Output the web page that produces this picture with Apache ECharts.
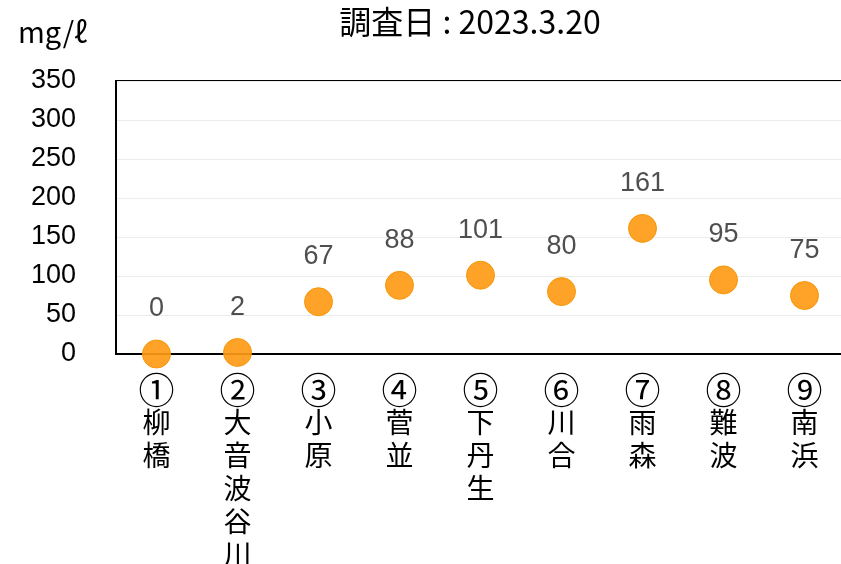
<!DOCTYPE html>
<html>
<head>
<meta charset="utf-8">
<script src="https://cdn.jsdelivr.net/npm/echarts@6/dist/echarts.min.js"></script>
<style>
  html, body { margin: 0; padding: 0; background: #fff; }
  #chart { width: 841px; height: 564px; }
</style>
</head>
<body>
<div id="chart"></div>
<script>
// 調査地点と値 (mg/ℓ)
const sites = ['①柳橋', '②大音波谷川', '③小原', '④菅並', '⑤下丹生', '⑥川合', '⑦雨森', '⑧難波', '⑨南浜'];
const values = [0, 2, 67, 88, 101, 80, 161, 95, 75];
const yTicks = [0, 50, 100, 150, 200, 250, 300, 350];

const font = '"Noto Sans CJK JP", "Noto Sans", sans-serif';
const numFont = '"Liberation Sans", Arial, sans-serif';

const chart = echarts.init(document.getElementById('chart'));
chart.setOption({
  animation: false,
  title: [
    {
      text: '調査日 : 2023.3.20',
      left: 465,
      top: 1,
      textAlign: 'center',
      textStyle: { fontFamily: font, fontSize: 32, fontWeight: 'normal', color: '#000' }
    },
    {
      text: 'mg/ℓ',
      left: 13,
      top: 12,
      textStyle: { fontFamily: font, fontSize: 29, fontWeight: 'normal', color: '#000' }
    }
  ],
  grid: {
    left: 116,
    top: 81,
    width: 729,
    height: 273,
    outerBoundsMode: 'none',
    show: true,
    borderColor: '#000',
    borderWidth: 2
  },
  xAxis: {
    type: 'category',
    data: sites,
    axisLine: { lineStyle: { color: '#000', width: 2 } },
    axisTick: { show: false },
    axisLabel: {
      interval: 0,
      margin: 20,
      fontFamily: font,
      fontSize: 28,
      lineHeight: 33,
      color: '#000',
      verticalAlign: 'top',
      formatter: v => {
        const chars = Array.from(v);
        return '{n|' + chars[0] + '}\n' + chars.slice(1).join('\n');
      },
      rich: {
        n: { fontFamily: font, fontSize: 36, lineHeight: 32, color: '#000' }
      }
    }
  },
  yAxis: {
    type: 'value',
    min: 0,
    max: yTicks[yTicks.length - 1],
    interval: 50,
    axisLine: { show: true, lineStyle: { color: '#000', width: 2 } },
    axisTick: { show: false },
    axisLabel: { margin: 40, fontFamily: numFont, fontSize: 27, color: '#000' },
    splitLine: { lineStyle: { color: '#ececec', width: 1 } }
  },
  series: [{
    type: 'scatter',
    data: values,
    symbolSize: 28,
    itemStyle: {
      color: '#ff9b16',
      opacity: 0.92,
      borderColor: '#f59300',
      borderWidth: 1
    },
    label: {
      show: true,
      position: 'top',
      distance: 17,
      fontFamily: numFont,
      fontSize: 27,
      color: '#404040'
    }
  }]
});
</script>
</body>
</html>
